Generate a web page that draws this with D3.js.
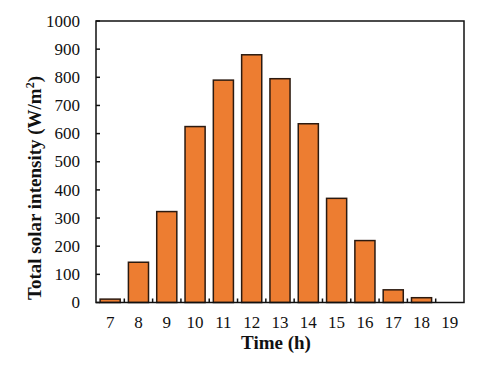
<!DOCTYPE html>
<html>
<head>
    <meta charset="utf-8">
    <title>Total solar intensity</title>
    <script src="https://d3js.org/d3.v7.min.js"></script>
    <style>
        body { margin: 0; background: #fff; }
        svg text { font-family: "Liberation Serif", "Times New Roman", serif; fill: #111; }
        .tick-label { font-size: 17px; }
        .axis-title { font-size: 19px; font-weight: bold; }
        .bar { fill: #ED7D31; stroke: #2b1a10; stroke-width: 1.5px; }
    </style>
</head>
<body>
<svg width="480" height="366"></svg>
<script>
    var hours = ["7", "8", "9", "10", "11", "12", "13", "14", "15", "16", "17", "18", "19"];
    var intensity = [12, 143, 323, 625, 790, 880, 795, 635, 370, 220, 45, 17, 0];
    var yTicks = [0, 100, 200, 300, 400, 500, 600, 700, 800, 900, 1000];

    var svg = d3.select("svg"),
        plotL = 96, plotR = 464, plotT = 21, plotB = 302.5;

    var x = d3.scaleBand().domain(hours).range([plotL, plotR]).paddingInner(0.29).paddingOuter(0.145);
    var y = d3.scaleLinear().domain([0, 1000]).range([plotB, plotT]);

    // bars
    svg.selectAll(".bar")
        .data(hours.map(function (h, i) { return {h: h, v: intensity[i]}; }))
        .enter().filter(function (d) { return d.v > 0; })
        .append("rect")
        .attr("class", "bar")
        .attr("x", function (d) { return x(d.h); })
        .attr("y", function (d) { return y(d.v); })
        .attr("width", x.bandwidth())
        .attr("height", function (d) { return plotB - y(d.v); });

    // frame
    svg.append("rect")
        .attr("x", plotL).attr("y", plotT)
        .attr("width", plotR - plotL).attr("height", plotB - plotT)
        .attr("fill", "none").attr("stroke", "#111").attr("stroke-width", 1.5);

    // y ticks (inside) and labels
    svg.selectAll(".ytick")
        .data(yTicks)
        .enter().append("line")
        .attr("x1", plotL).attr("x2", plotL + 4)
        .attr("y1", function (d) { return y(d); })
        .attr("y2", function (d) { return y(d); })
        .attr("stroke", "#111").attr("stroke-width", 1.5);

    svg.selectAll(".ylabel")
        .data(yTicks)
        .enter().append("text")
        .attr("class", "tick-label")
        .attr("x", plotL - 16)
        .attr("y", function (d) { return y(d); })
        .attr("dy", "0.33em")
        .attr("text-anchor", "end")
        .text(function (d) { return d; });

    // x ticks between bands (pointing up)
    var step = x.step();
    var boundaries = d3.range(1, hours.length).map(function (i) { return plotL + i * step; });
    svg.selectAll(".xtick")
        .data(boundaries)
        .enter().append("line")
        .attr("x1", function (d) { return d; })
        .attr("x2", function (d) { return d; })
        .attr("y1", plotB).attr("y2", plotB - 4)
        .attr("stroke", "#111").attr("stroke-width", 1.5);

    svg.selectAll(".xlabel")
        .data(hours)
        .enter().append("text")
        .attr("class", "tick-label")
        .attr("x", function (d) { return x(d) + x.bandwidth() / 2; })
        .attr("y", 328)
        .attr("text-anchor", "middle")
        .text(function (d) { return d; });

    // axis titles
    svg.append("text")
        .attr("class", "axis-title")
        .attr("x", 276).attr("y", 349)
        .attr("text-anchor", "middle")
        .text("Time (h)");

    var yt = svg.append("text")
        .attr("class", "axis-title")
        .attr("transform", "translate(41,188) rotate(-90)")
        .attr("text-anchor", "middle");
    yt.append("tspan").text("Total solar intensity (W/m");
    yt.append("tspan").attr("baseline-shift", "super").style("font-size", "12px").text("2");
    yt.append("tspan").text(")");
</script>
</body>
</html>
